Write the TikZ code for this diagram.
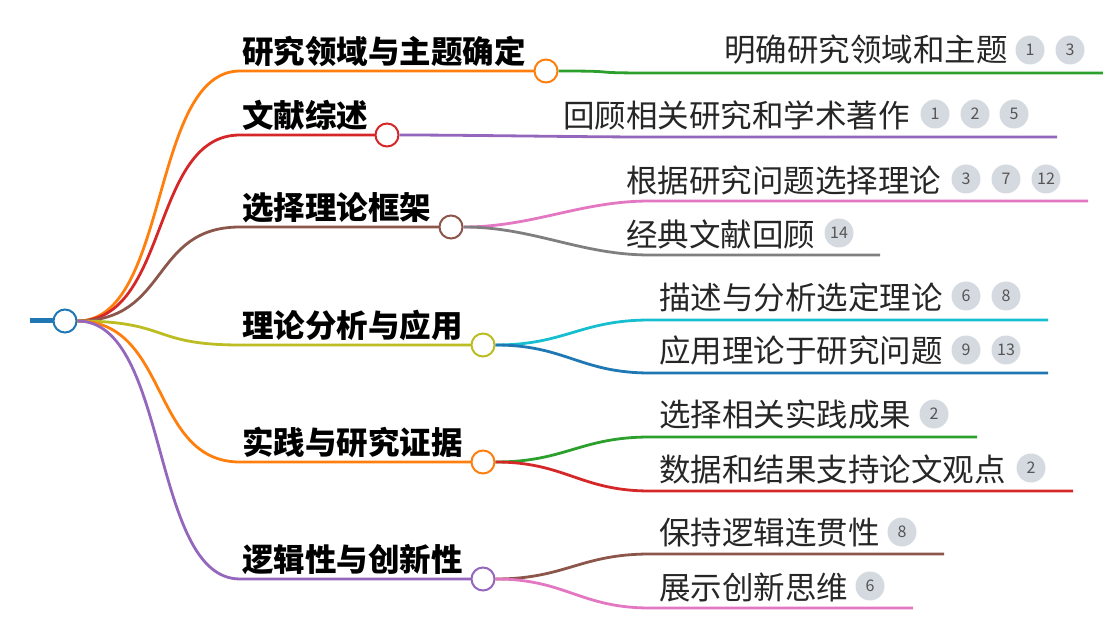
\documentclass[tikz,border=0pt]{standalone}
\usepackage{fontspec}
\setmainfont{Noto Sans CJK SC}
\setsansfont{Noto Sans CJK SC}
\definecolor{cOr}{HTML}{FF7F0E}\definecolor{cRe}{HTML}{D62728}\definecolor{cBr}{HTML}{8C564B}
\definecolor{cOl}{HTML}{BCBD22}\definecolor{cPu}{HTML}{9467BD}\definecolor{cGr}{HTML}{2CA02C}
\definecolor{cPk}{HTML}{E377C2}\definecolor{cGy}{HTML}{7F7F7F}\definecolor{cCy}{HTML}{17BECF}
\definecolor{cBl}{HTML}{1F77B4}\definecolor{cBadge}{HTML}{D5D9E0}\definecolor{cBt}{HTML}{555555}
\begin{document}
\begin{tikzpicture}[x=1pt,y=-1pt,
  main/.style={font=\fontsize{31.5}{34}\selectfont\bfseries, anchor=south west, inner sep=0},
  sub/.style={font=\fontsize{31.5}{34}\selectfont, anchor=west, inner sep=0, text=black!85},
  knob/.style={circle, draw, line width=2pt, fill=white, minimum size=23pt, inner sep=0},
  badge/.style={circle, fill=cBadge, minimum size=29pt, inner sep=0, font=\fontsize{16}{17}\selectfont, text=cBt},
  ln/.style={line width=2.8pt}]
\useasboundingbox (0,0) rectangle (1103,617);
\coordinate (stub) at (30,321);
\node[knob, draw=cBl] (root) at (65,321) {};
\foreach \n/\y/\kx/\c/\t in {b1/71/546/cOr/研究领域与主题确定, b2/135/387/cRe/文献综述, b3/227/451/cBr/选择理论框架, b4/345/483/cOl/理论分析与应用, b5/462/483/cOr/实践与研究证据, b6/579/483/cPu/逻辑性与创新性}{
  \coordinate (\n s) at (240,\y);
  \draw[ln, \c] (root.east) .. controls (170,321) and (150,\y) .. (\n s) -- (\kx-11,\y);
  \node[knob, draw=\c] (\n) at (\kx,\y) {};
  \node[main] (\n t) at (242,\y-4) {\t};
}
\draw[ln, cBl, line width=5pt] (stub) -- (root.west);
\foreach \p/\m/\ex/\ey/\c in {
  b1/c1/1103/73/cGr, b2/c2/1057/137/cPu, b3/c3/1088/201/cPk, b3/c4/880/255/cGy,
  b4/c5/1048/320/cCy, b4/c6/1048/373/cBl, b5/c7/977/437/cGr, b5/c8/1073/491/cRe,
  b6/c9/944/554/cBr, b6/c10/913/608/cPk}{
  \coordinate (\m e) at (\ex,\ey);
  \draw[ln, \c] (\p.east) .. controls +(70,0) and (580,\ey) .. (650,\ey) -- (\m e);
}
\node[sub] (t1) at (724,50) {明确研究领域和主题};
\node[badge] (t1a) at (1030,50) {1}; \node[badge] (t1b) at (1070,50) {3};
\node[sub] (t2) at (563,115) {回顾相关研究和学术著作};
\node[badge] (t2a) at (935,114) {1}; \node[badge] (t2b) at (975,114) {2}; \node[badge] (t2c) at (1014,114) {5};
\node[sub] (t3) at (626,180) {根据研究问题选择理论};
\node[badge] (t3a) at (966,179) {3}; \node[badge] (t3b) at (1006,179) {7}; \node[badge] (t3c) at (1046,179) {12};
\node[sub] (t4) at (626,234) {经典文献回顾};
\node[badge] (t4a) at (839,233) {14};
\node[sub] (t5) at (659,297) {描述与分析选定理论};
\node[badge] (t5a) at (966,296) {6}; \node[badge] (t5b) at (1006,296) {8};
\node[sub] (t6) at (659,351) {应用理论于研究问题};
\node[badge] (t6a) at (966,350) {9}; \node[badge] (t6b) at (1006,350) {13};
\node[sub] (t7) at (659,415) {选择相关实践成果};
\node[badge] (t7a) at (934,414) {2};
\node[sub] (t8) at (659,469) {数据和结果支持论文观点};
\node[badge] (t8a) at (1031,468) {2};
\node[sub] (t9) at (659,533) {保持逻辑连贯性};
\node[badge] (t9a) at (902,532) {8};
\node[sub] (t10) at (659,587) {展示创新思维};
\node[badge] (t10a) at (870,586) {6};
\end{tikzpicture}
\end{document}
